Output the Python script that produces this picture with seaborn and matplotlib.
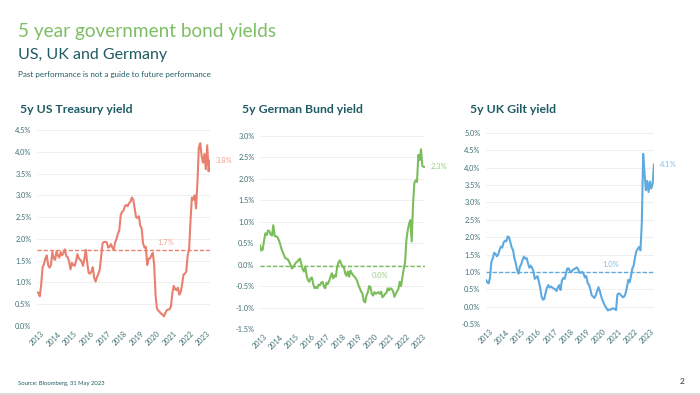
import matplotlib
matplotlib.use('Agg')
import matplotlib.pyplot as plt
import matplotlib.dates as mdates
import seaborn as sns
import pandas as pd

# monthly observations, Jan 2013 .. May 2023 (%)
us_yield = [
    0.78, 0.76, 0.68, 0.95, 1.35, 1.42, 1.55, 1.62, 1.40, 1.34, 1.40, 1.70,
    1.55, 1.52, 1.72, 1.62, 1.57, 1.70, 1.62, 1.68, 1.76, 1.60, 1.58, 1.48,
    1.30, 1.45, 1.40, 1.38, 1.50, 1.65, 1.55, 1.52, 1.48, 1.38, 1.55, 1.75,
    1.45, 1.22, 1.20, 1.25, 1.35, 1.10, 1.02, 1.12, 1.20, 1.30, 1.60, 1.90,
    1.93, 1.93, 1.92, 1.80, 1.82, 1.88, 1.80, 1.75, 1.92, 2.00, 2.12, 2.20,
    2.55, 2.62, 2.65, 2.75, 2.78, 2.75, 2.82, 2.85, 2.95, 2.90, 2.70, 2.50,
    2.48, 2.52, 2.30, 2.25, 1.90, 1.80, 1.82, 1.40, 1.55, 1.55, 1.62, 1.68,
    1.40, 0.70, 0.40, 0.35, 0.32, 0.28, 0.26, 0.22, 0.30, 0.36, 0.38, 0.38,
    0.45, 0.75, 0.92, 0.85, 0.82, 0.88, 0.72, 0.78, 0.95, 1.18, 1.20, 1.25,
    1.62, 1.75, 2.40, 2.95, 2.90, 3.00, 2.70, 3.30, 4.10, 4.20, 3.90, 3.75,
    3.95, 3.60, 4.15, 3.55, 3.80,
]
de_yield = [
    0.46, 0.33, 0.35, 0.55, 0.73, 0.69, 0.80, 0.78, 0.70, 0.68, 0.92, 0.67,
    0.66, 0.65, 0.58, 0.50, 0.38, 0.30, 0.22, 0.15, 0.14, 0.12, 0.06, -0.01,
    -0.09, -0.06, 0.00, 0.05, 0.07, 0.11, 0.14, 0.02, -0.10, -0.16, -0.05, -0.25,
    -0.36, -0.40, -0.32, -0.30, -0.45, -0.55, -0.52, -0.55, -0.47, -0.48, -0.42, -0.40,
    -0.51, -0.55, -0.42, -0.45, -0.38, -0.28, -0.20, -0.32, -0.25, -0.28, -0.05, 0.05,
    0.10, 0.02, -0.05, -0.05, -0.20, -0.26, -0.16, -0.28, -0.14, -0.20, -0.25, -0.28,
    -0.32, -0.38, -0.48, -0.55, -0.63, -0.67, -0.85, -0.88, -0.72, -0.65, -0.50, -0.52,
    -0.68, -0.72, -0.64, -0.68, -0.66, -0.64, -0.68, -0.63, -0.76, -0.73, -0.68, -0.66,
    -0.55, -0.60, -0.55, -0.57, -0.62, -0.75, -0.68, -0.62, -0.57, -0.40, -0.50, -0.30,
    -0.10, 0.05, 0.57, 0.80, 0.95, 1.04, 0.54, 1.40, 1.90, 1.97, 1.93, 2.56,
    2.44, 2.69, 2.30, 2.28, 2.28,
]
uk_yield = [
    0.77, 0.70, 0.67, 0.85, 1.30, 1.38, 1.55, 1.52, 1.45, 1.50, 1.63, 1.73,
    1.70, 1.85, 1.90, 1.88, 2.02, 2.00, 1.85, 1.70, 1.62, 1.39, 1.25, 1.05,
    0.95, 1.15, 1.22, 1.35, 1.44, 1.38, 1.40, 1.25, 1.12, 1.18, 1.12, 1.02,
    0.80, 0.84, 0.88, 0.72, 0.55, 0.29, 0.20, 0.22, 0.40, 0.55, 0.62, 0.55,
    0.58, 0.55, 0.52, 0.50, 0.45, 0.55, 0.62, 0.48, 0.75, 0.82, 0.80, 0.95,
    1.10, 1.10, 1.02, 1.00, 1.05, 1.08, 1.10, 1.13, 1.08, 0.97, 0.98, 1.00,
    0.95, 0.84, 0.88, 0.68, 0.63, 0.50, 0.33, 0.29, 0.25, 0.33, 0.45, 0.56,
    0.45, 0.30, 0.18, 0.09, 0.01, -0.05, -0.11, -0.08, -0.09, -0.06, -0.05, -0.07,
    -0.10, 0.35, 0.38, 0.36, 0.31, 0.27, 0.29, 0.38, 0.55, 0.77, 0.70, 0.88,
    1.10, 1.18, 1.42, 1.60, 1.66, 1.72, 1.62, 2.40, 4.40, 3.85, 3.35, 3.62,
    3.30, 3.60, 3.40, 3.55, 4.10,
]
# average lines (%)
us_avg = 1.74
de_avg = -0.03
uk_avg = 1.00

titles = ['5y US Treasury yield', '5y German Bund yield', '5y UK Gilt yield']
y_ranges = [(0.0, 4.5), (-1.5, 3.0), (-0.5, 5.0)]
colors = ['#e9806f', '#7bbd5b', '#5eaae0']
label_colors = ['#eea494', '#9dcd82', '#86bfe8']

dates = pd.date_range('2013-01-01', '2023-05-31', periods=len(us_yield))

sns.set_style('white')
plt.rcParams['font.family'] = ['Lato', 'DejaVu Sans']

teal = '#1f5b63'
tick_col = '#3f6f74'

fig = plt.figure(figsize=(7, 3.95), dpi=100)

fig.text(18 / 700, 1 - 37 / 395, '5 year government bond yields', fontsize=13.7,
         color='#7dbf64', va='baseline')
fig.text(18 / 700, 1 - 58.5 / 395, 'US, UK and Germany', fontsize=11.5,
         color=teal, va='baseline')
fig.text(18 / 700, 1 - 77.5 / 395, 'Past performance is not a guide to future performance',
         fontsize=5.8, color=teal, va='baseline')
fig.text(18 / 700, 1 - 383 / 395, 'Source: Bloomberg, 31 May 2023', fontsize=4.2,
         color=teal, va='center')
fig.text(680 / 700, 1 - 382 / 395, '2', fontsize=6, color='#333333', va='center')
fig.add_artist(plt.Line2D([0, 1], [1 - 394 / 395] * 2, color='#d9d9d9', linewidth=2))

# axes boxes in pixels: left, right, top, bottom
boxes = [(37, 210, 130, 326), (260, 425, 136, 329), (486, 654, 133, 324)]
title_x = [20, 242, 470]

series = [us_yield, de_yield, uk_yield]
avgs = [us_avg, de_avg, uk_avg]

for i in range(3):
    l, r, t, b = boxes[i]
    ax = fig.add_axes([l / 700, 1 - b / 395, (r - l) / 700, (b - t) / 395])
    df = pd.DataFrame({'date': dates, 'yield': series[i]})
    sns.lineplot(data=df, x='date', y='yield', ax=ax, color=colors[i], linewidth=1.5)
    ax.axhline(avgs[i], color=colors[i], linestyle=(0, (3, 1.5)), linewidth=1.0)

    lo, hi = y_ranges[i]
    ax.set_ylim(lo, hi)
    ax.set_yticks([lo + 0.5 * k for k in range(int(round((hi - lo) / 0.5)) + 1)])
    ax.yaxis.set_major_formatter(matplotlib.ticker.FuncFormatter(lambda v, p: f'{v:.1f}%'))
    ax.set_xlim(dates[0], dates[-1])
    ax.xaxis.set_major_locator(mdates.YearLocator())
    ax.xaxis.set_major_formatter(mdates.DateFormatter('%Y'))
    ax.tick_params(axis='x', labelrotation=45, labelsize=5.3, colors=tick_col, length=0, pad=3)
    ax.tick_params(axis='y', labelsize=5.3, colors=tick_col, length=0, pad=4)
    ax.grid(axis='y', color='#ececec', linewidth=0.6)
    ax.set_axisbelow(True)
    for s in ax.spines.values():
        s.set_visible(False)
    ax.set_xlabel('')
    ax.set_ylabel('')

    last = series[i][-1]
    ax.annotate(f'{last:.1f}%', xy=(dates[-1], last), xytext=(4, 0),
                textcoords='offset points', ha='left', va='center',
                fontsize=5.5, color=label_colors[i])
    avg_txt = f'{round(avgs[i], 1) + 0.0:.1f}%'
    if i == 1:
        ax.annotate(avg_txt, xy=(0.73, avgs[i]), xycoords=ax.get_yaxis_transform(),
                    xytext=(0, -4), textcoords='offset points', ha='center', va='top',
                    fontsize=5.5, color=label_colors[i])
    else:
        ax.annotate(avg_txt, xy=(0.745, avgs[i]), xycoords=ax.get_yaxis_transform(),
                    xytext=(0, 3), textcoords='offset points', ha='center', va='bottom',
                    fontsize=5.5, color=label_colors[i])

    fig.text(title_x[i] / 700, 1 - 113 / 395, titles[i], fontsize=8.8,
             fontweight='bold', color=teal, va='baseline')

fig.savefig('out.png', dpi=100, facecolor='white')
